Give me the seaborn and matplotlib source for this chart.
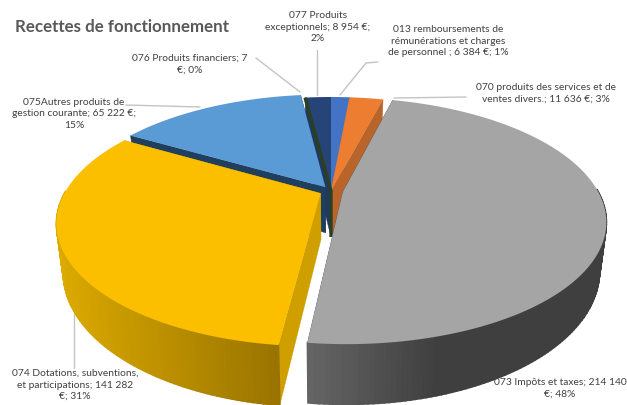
import numpy as np
import matplotlib
matplotlib.use("Agg")
import matplotlib.pyplot as plt
import seaborn as sns

categories = ["013", "070", "073", "074", "075", "076", "077"]
values = [6384, 11636, 214140, 141282, 65222, 7, 8954]
labels = [
    "013 remboursements de\nrémunérations et charges\nde personnel ; 6 384 €; 1%",
    "070 produits des services et de\nventes divers.; 11 636 €; 3%",
    "073 Impôts et taxes; 214 140\n€; 48%",
    "074 Dotations, subventions,\net participations; 141 282\n€; 31%",
    "075Autres produits de\ngestion courante; 65 222 €;\n15%",
    "076 Produits financiers; 7\n€; 0%",
    "077 Produits\nexceptionnels; 8 954 €;\n2%",
]
title = "Recettes de fonctionnement"

sns.set_theme(style="white")
plt.rcParams["font.family"] = ["Lato", "DejaVu Sans"]

top_col = ["#4472c4", "#ed7d31", "#a5a5a5", "#fcbf00", "#5b9bd5", "#264478", "#264478"]
wall_col = ["#2f5597", "#b9642a", "#505050", "#cf9f00", "#1f3f5f", "#2a4020", "#1f3864"]
explode = [0, 0, 0.047, 0.045, 0.04, 0, 0]
rim_l = {2: "#666666", 3: "#dcaa00"}
rim_r = {2: "#3f3f3f", 3: "#987300"}

W, H = 627, 405
CX, CY, RX, RY, K, DEPTH = 331, 191, 255, 116, 0.234, 46

fig = plt.figure(figsize=(W / 100, H / 100), dpi=100, facecolor="white")
ax = fig.add_axes([0, 0, 1, 1])
ax.set_xlim(0, W)
ax.set_ylim(H, 0)
ax.axis("off")


def project(x, y, lower=False):
    w = 1 + K * y
    sx = RX * x / w
    sy = -RY * y / w
    if lower:
        sx *= 0.975
        sy += DEPTH / w
    return CX + sx, CY + sy


fr = np.array(values, float) / np.sum(values)
edges = np.concatenate([[0], np.cumsum(fr)]) * 2 * np.pi


def wedge_parts(i):
    a0, a1 = edges[i], edges[i + 1]
    mid = (a0 + a1) / 2
    dx, dy = explode[i] * np.sin(mid), explode[i] * np.cos(mid)
    t = np.linspace(a0, a1, max(int((a1 - a0) * 60), 3))
    return t, dx, dy


def draw_wedge(i, z=0.0):
    t, dx, dy = wedge_parts(i)
    ox, oy = dx, dy
    rx, ry = dx + np.sin(t), dy + np.cos(t)
    for k in (0, -1):
        p = [project(ox, oy), project(rx[k], ry[k]),
             project(rx[k], ry[k], True), project(ox, oy, True)]
        ax.fill(*zip(*p), color=wall_col[i], lw=0.3, zorder=2 + z)
    if i in rim_l:
        px_t = np.array(project(rx, ry)).T
        px_b = np.array(project(rx, ry, True)).T
        xmin, xmax = (306, 440) if i == 2 else (56, 283)
        c0 = np.array(matplotlib.colors.to_rgb(rim_l[i]))
        c1 = np.array(matplotlib.colors.to_rgb(rim_r[i]))
        for j in range(len(t) - 1):
            if ry[j] > dy + 0.02 and ry[j + 1] > dy + 0.02:
                continue
            f = np.clip((px_t[j, 0] - xmin) / (xmax - xmin), 0, 1)
            col = c0 + (c1 - c0) * f
            poly = [px_t[j], px_t[j + 1], px_b[j + 1], px_b[j]]
            ax.fill(*zip(*poly), facecolor=col, edgecolor=col, lw=1.2, zorder=3 + z)
    tx, ty = project(np.r_[ox, rx], np.r_[oy, ry])
    ax.fill(tx, ty, color=top_col[i], lw=0, zorder=4 + z)


for i in [6, 4, 0, 1]:
    draw_wedge(i)

t76, dx76, dy76 = wedge_parts(5)
p_rim = project(np.sin(t76[0]), np.cos(t76[0]))
p_apex = project(0, 0)
p_low = project(0, 0, True)
ax.plot([p_rim[0], p_apex[0], p_low[0]], [p_rim[1], p_apex[1], p_low[1]],
        color=wall_col[5], lw=2.4, zorder=4.5, solid_capstyle="butt")

for i in [3, 2]:
    draw_wedge(i, 3)

leaders = [
    ([378, 366, 340], [62, 63, 95]),
    ([394, 466], [98, 97]),
    None,
    ([74, 74], [313, 368]),
    ([126, 200], [105, 107]),
    ([256, 300], [58, 92]),
    ([317, 317], [50, 95]),
]
for seg in leaders:
    if seg is not None:
        ax.plot(seg[0], seg[1], color="#c4c4c4", lw=1, zorder=1)

pos = [(448, 41), (546, 93), (560, 388), (75, 385), (74, 114), (190, 64), (318, 27)]
for s, (x, y) in zip(labels, pos):
    ax.text(x, y, s, ha="center", va="center", fontsize=7.35, color="#404040",
            linespacing=1.38, zorder=10)

ax.text(15, 27, title, ha="left", va="center", fontsize=12.2, fontweight="bold",
        color="#595959", zorder=10)

fig.savefig("out.png", dpi=100, facecolor="white")
